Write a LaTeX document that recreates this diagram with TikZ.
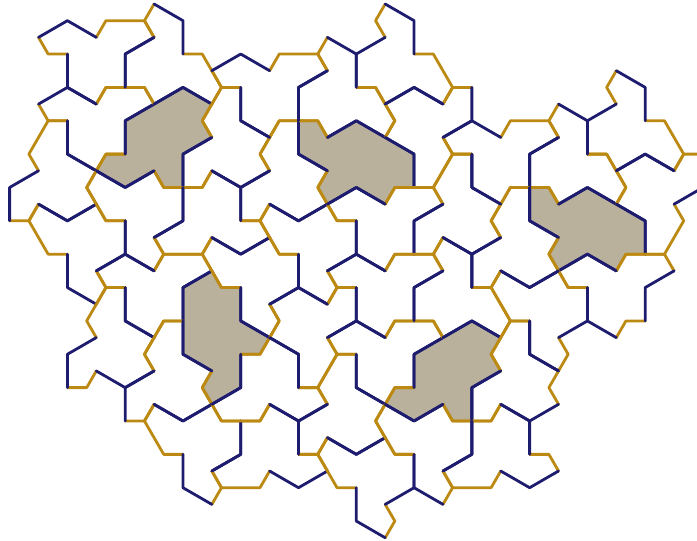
\documentclass[tikz,border=0pt]{standalone}
\usepackage{tikz}
\definecolor{hatblue}{RGB}{30,28,110}
\definecolor{hatgold}{RGB}{188,138,18}
\definecolor{turtlegrey}{RGB}{185,177,155}
\tikzset{
  longedge/.style={draw=hatblue,line width=2.8pt,line cap=round,line join=round},
  shortedge/.style={draw=hatgold,line width=2.8pt,line cap=round,line join=round},
  turtlefill/.style={fill=turtlegrey}
}
% hat: anchor at the start of its double short edge
\newcommand\hattile[3]{%
  \begin{scope}[shift={(#1,#2)},rotate=#3]
    \draw[shortedge] (-1,1) -- (0,0) -- (4,0) -- (5,1) (2,4) -- (0,4) -- (-1,5) (-4,2) -- (-6,2) -- (-7,1);
    \draw[longedge] (5,1) -- (2,2) -- (2,4) (-1,5) -- (-4,4) -- (-4,2) (-7,1) -- (-4,0) -- (-1,1);
  \end{scope}}
% turtle: anchor at the start of its double long edge
\newcommand\turtletile[3]{%
  \begin{scope}[shift={(#1,#2)},rotate=#3]
    \fill[turtlefill] (0,0) -- (6,2) -- (6,4) -- (4,4) -- (3,5) -- (0,4) -- (-3,5) -- (-4,4) -- (-3,3) -- (-6,2) -- (-6,0) -- (-4,0) -- (-3,1) -- cycle;
    \draw[shortedge] (6,4) -- (4,4) -- (3,5) (-3,5) -- (-4,4) -- (-3,3) (-6,0) -- (-4,0) -- (-3,1);
    \draw[longedge] (-3,1) -- (0,0) -- (6,2) -- (6,4) (3,5) -- (0,4) -- (-3,5) (-3,3) -- (-6,2) -- (-6,0);
  \end{scope}}

\begin{document}
\begin{tikzpicture}[x=9.63pt,y=-16.68pt]
\useasboundingbox (-1,-0.24) rectangle (71.38,32.19);
\clip (-1,-0.24) rectangle (71.38,32.19);

% shaded turtles first
\foreach \x/\y/\a in {12/7/60, 36/7/0, 60/11/0, 18/21/120, 42/21/60}
  \turtletile{\x}{\y}{\a};

% hats
\foreach \x/\y/\a in {10/1/0, 10/5/0, 2/9/60, 20/3/300, 28/3/0, 26/9/60, 20/7/60,
    4/15/120, 10/13/120, 16/15/0, 20/15/180, 8/19/60, 14/21/60, 16/27/120,
    26/29/180, 26/25/180, 22/17/120, 28/15/120, 38/5/300, 44/3/300, 46/9/240,
    52/7/0, 62/9/300, 68/7/300, 70/13/240, 64/15/0, 50/13/60, 40/11/0,
    44/11/60, 40/15/0, 40/19/0, 34/21/240, 32/23/60, 34/29/120, 40/27/120,
    50/17/300, 52/19/120, 50/21/60, 50/29/180}
  \hattile{\x}{\y}{\a};
\end{tikzpicture}
\end{document}
